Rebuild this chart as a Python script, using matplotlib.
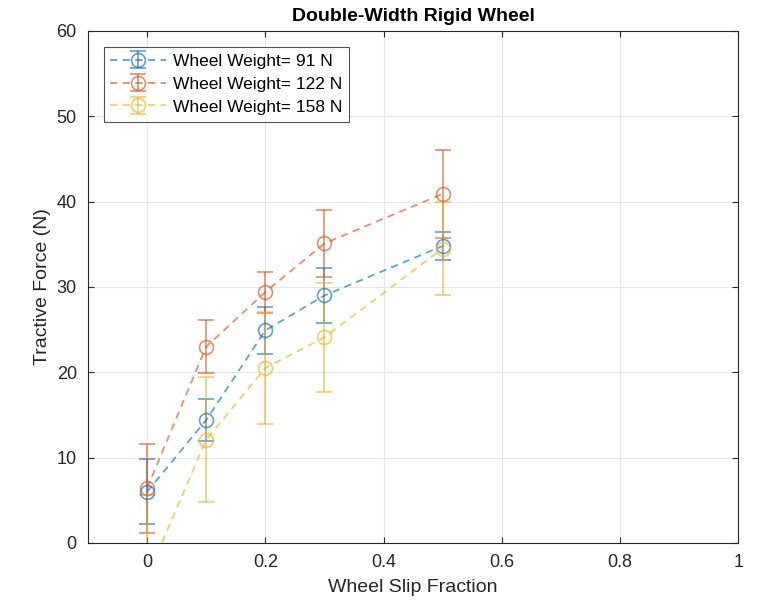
import numpy as np
import matplotlib.pyplot as plt

plt.rcParams['font.family'] = ['Liberation Sans', 'DejaVu Sans']

# Wheel slip fraction
slip = [0, 0.1, 0.2, 0.3, 0.5]

# Tractive force (N) and error for each wheel weight
force_91 = [6.0, 14.4, 24.9, 29.0, 34.8]
err_91 = [3.8, 2.5, 2.75, 3.2, 1.6]

force_122 = [6.4, 23.0, 29.4, 35.1, 40.9]
err_122 = [5.2, 3.1, 2.4, 3.9, 5.2]

force_158 = [-4.0, 12.1, 20.5, 24.1, 34.5]
err_158 = [9.6, 7.3, 6.6, 6.4, 5.5]

labels = ['Wheel Weight= 91 N', 'Wheel Weight= 122 N', 'Wheel Weight= 158 N']
colors = ['#0072BD', '#D95319', '#EDB120']

fig = plt.figure(figsize=(7.58, 6.06), dpi=100)
ax = fig.add_axes([0.116, 0.104, 0.858, 0.845])

series = [(force_91, err_91), (force_122, err_122), (force_158, err_158)]
for (f, e), c, lab in zip(series, colors, labels):
    ax.errorbar(slip, f, yerr=e, color=c, alpha=0.65, linestyle=(0, (4, 3)), marker='o',
                markersize=10, markerfacecolor='none', markeredgewidth=1.2,
                linewidth=1.3, capsize=6, elinewidth=1.2, capthick=1.2, label=lab)

ax.set_xlim(-0.1, 1)
ax.set_ylim(0, 60)
ax.set_xticks([0, 0.2, 0.4, 0.6, 0.8, 1])
ax.set_xticklabels(['0', '0.2', '0.4', '0.6', '0.8', '1'])
ax.set_yticks(range(0, 61, 10))
ax.grid(True, color='#e6e6e6', linewidth=0.8)
ax.set_axisbelow(True)
ax.tick_params(direction='in', length=4, labelsize=13, colors='#262626', pad=8,
               top=True, right=True)
for s in ax.spines.values():
    s.set_color('#262626')
    s.set_linewidth(0.8)

ax.set_xlabel('Wheel Slip Fraction', fontsize=14, color='#262626', labelpad=6)
ax.set_ylabel('Tractive Force (N)', fontsize=14, color='#262626', labelpad=4)
ax.set_title('Double-Width Rigid Wheel', fontsize=14, fontweight='bold', pad=7)

leg = ax.legend(loc='upper left', fontsize=12.5, fancybox=False, edgecolor='#262626',
                borderaxespad=0.9, handlelength=3.2, handletextpad=0.4, labelspacing=0.45)
leg.get_frame().set_linewidth(0.8)

fig.savefig('out.png', dpi=100)
